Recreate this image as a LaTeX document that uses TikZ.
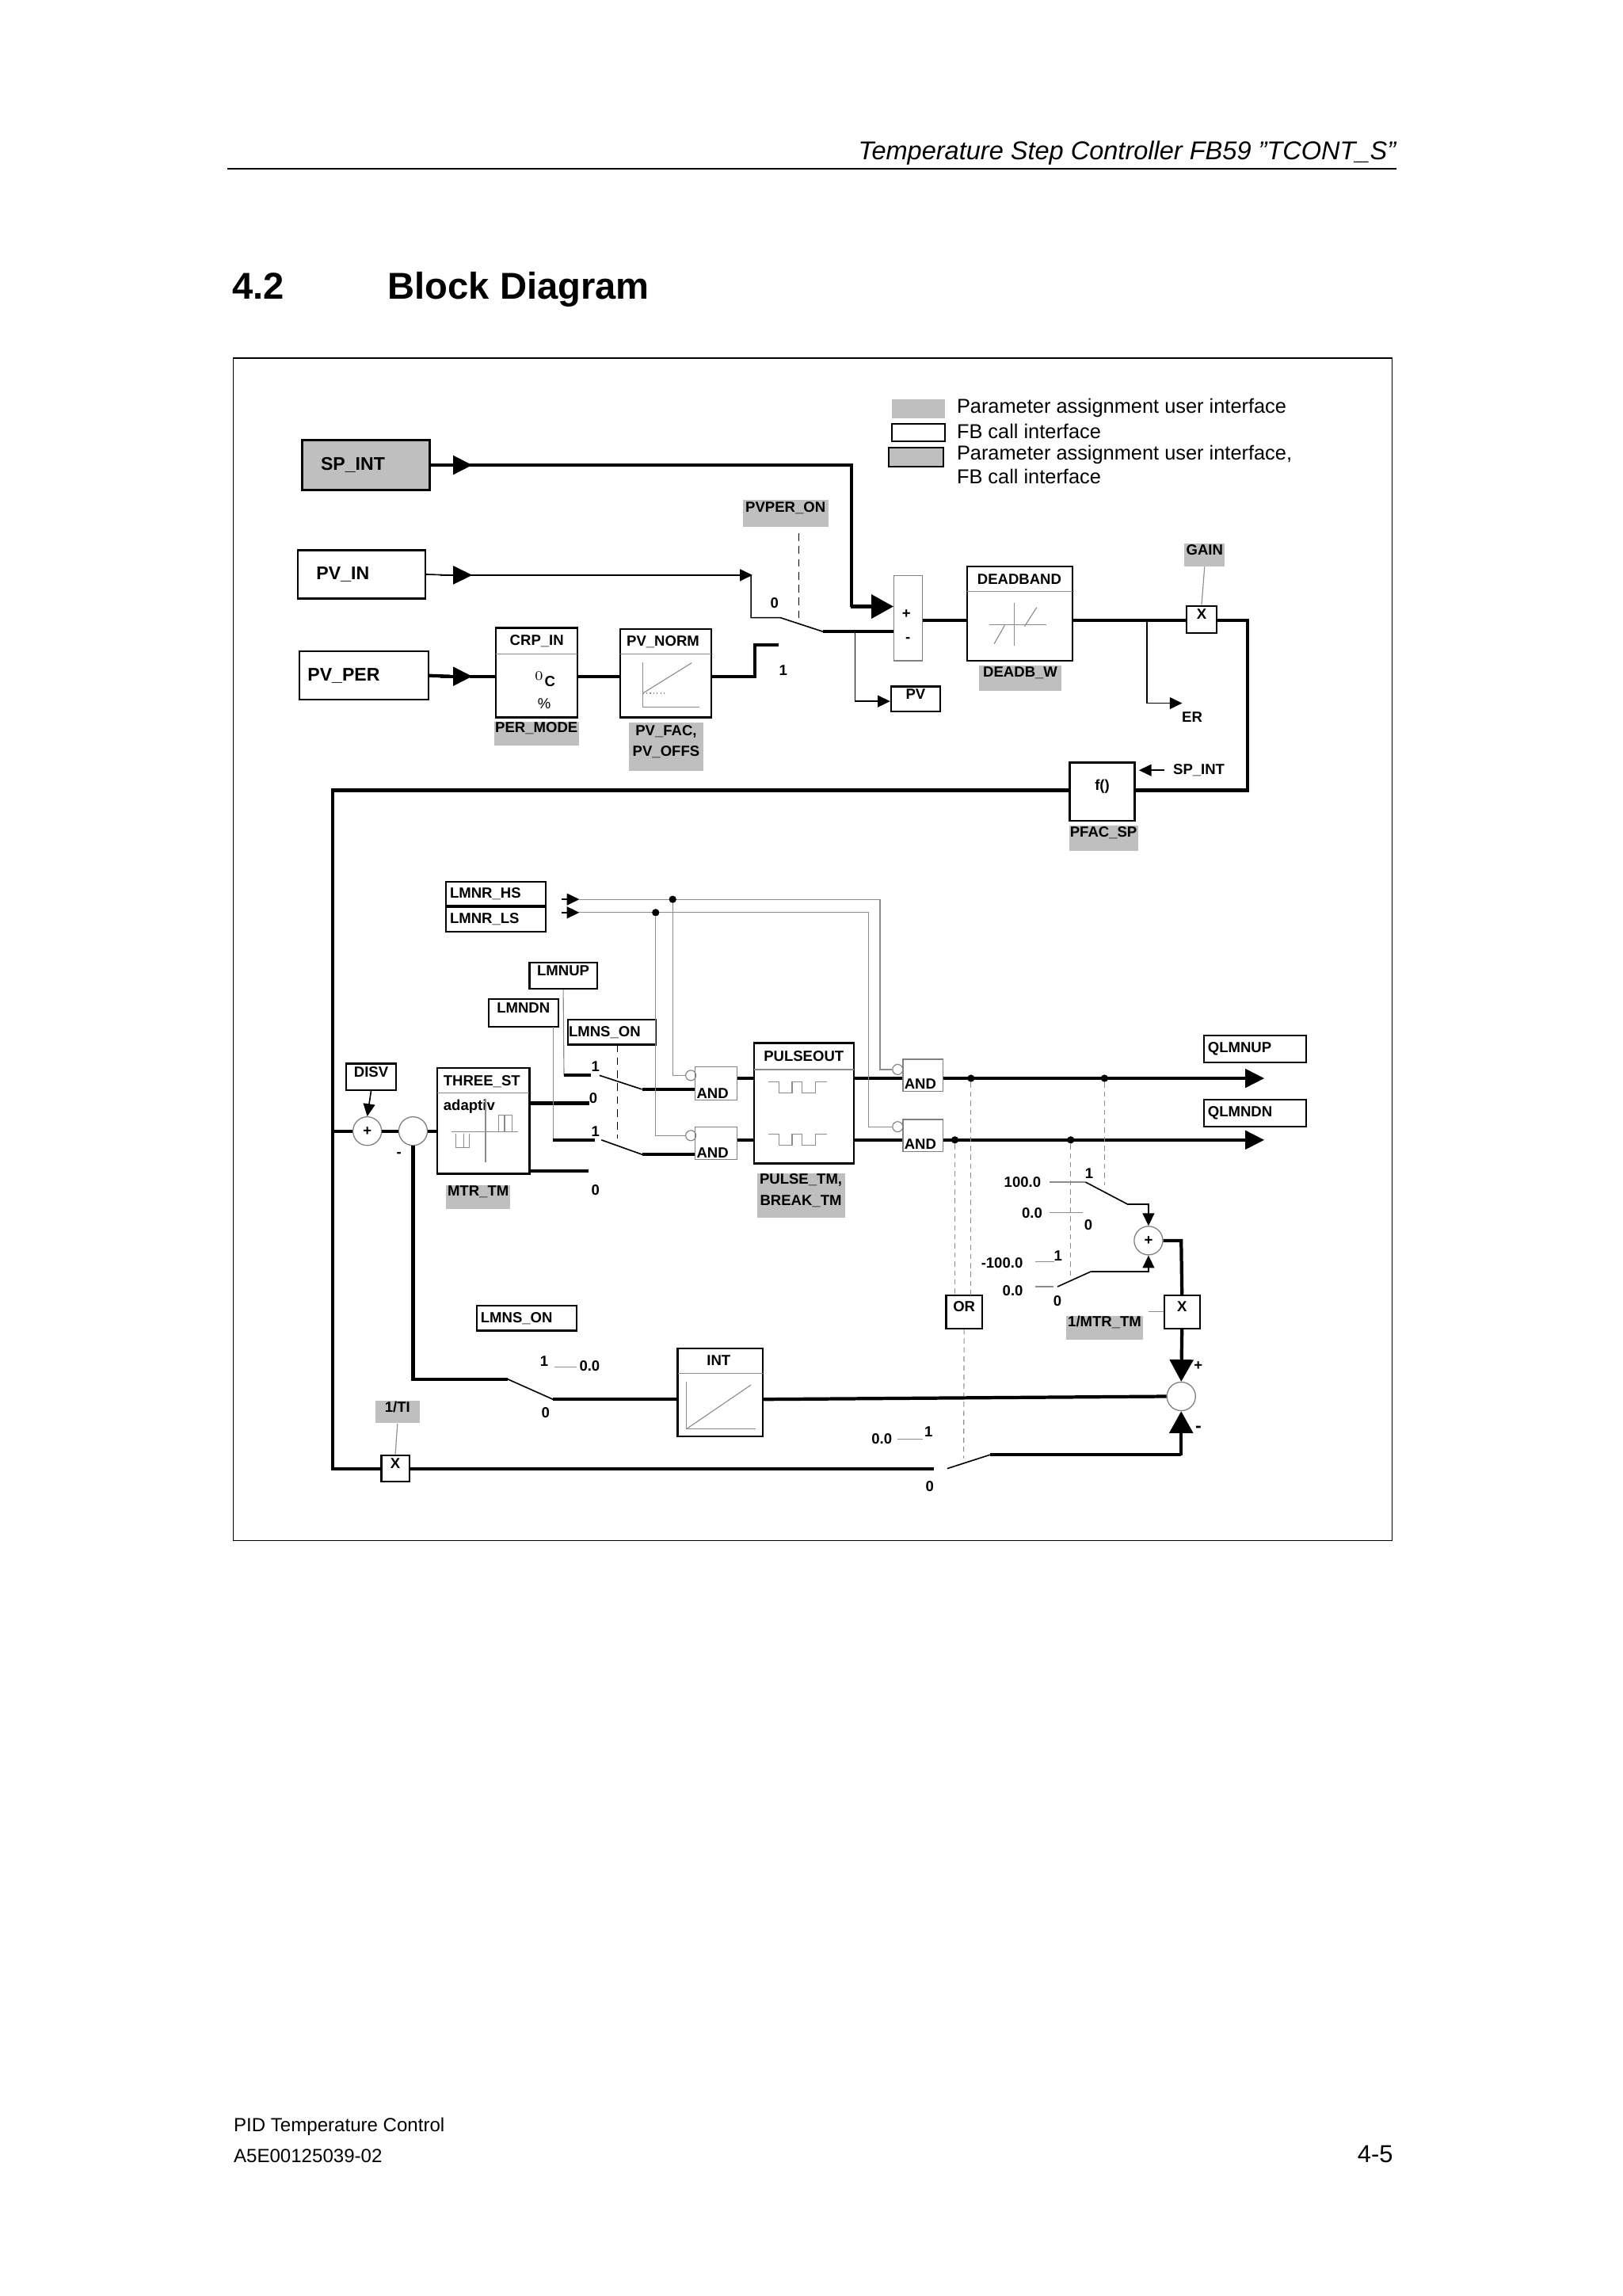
\documentclass[tikz,border=0pt]{standalone}
\usepackage{fontspec}
\setmainfont{Liberation Sans}
\usetikzlibrary{positioning,calc,fit,arrows.meta}

\newcommand\fsml{\fontsize{5.7}{7.2}\selectfont\bfseries}
\newcommand\fbig{\fontsize{7.1}{8}\selectfont\bfseries}
\newcommand\fleg{\fontsize{7.8}{9}\selectfont}
% box from two corners (pixel grid)
\newcommand\bx[7][box]{\node[#1,fit={(#3,#4)(#5,#6)}] (#2) {#7};}

\tikzset{
  sig/.style={line width=1.3pt},
  wire/.style={line width=0.5pt},
  gwire/.style={line width=0.35pt,black!45},
  gdash/.style={line width=0.35pt,black!45,dash pattern=on 2pt off 1.5pt},
  box/.style={draw,line width=0.7pt,inner sep=0pt,font=\fsml},
  gbox/.style={draw=black!50,line width=0.4pt,inner sep=0pt,font=\fsml},
  prm/.style={fill=black!25,inner sep=0pt,font=\fsml,align=left},
  pbox/.style={draw,fill=black!25,line width=0.7pt,inner sep=0pt,font=\fbig},
  lbl/.style={inner sep=0pt,font=\fsml},
  sumc/.style={circle,draw=black!50,line width=0.4pt,inner sep=0pt,minimum size=0.39cm,font=\fsml},
  big/.style={-{Triangle[length=0.3cm,width=0.32cm]}},
  mid/.style={-{Triangle[length=0.26cm,width=0.25cm]}},
  sml/.style={-{Triangle[length=0.17cm,width=0.16cm]}},
  dot/.style={circle,fill,inner sep=0pt,minimum size=0.1cm},
  neg/.style={circle,draw=black!50,line width=0.35pt,inner sep=0pt,minimum size=0.14cm}
}

\begin{document}
\begin{tikzpicture}[x=0.02cm,y=-0.02cm]
\useasboundingbox (0,0) rectangle (1106,1565);

% page head
\node[anchor=base east,inner sep=0pt,font=\fontsize{10}{12}\selectfont\itshape] (head) at (952,109) {Temperature Step Controller FB59 "TCONT\_S"};
\draw[line width=0.5pt] (155,115) -- (952,115);
\node[anchor=base west,inner sep=0pt,font=\fontsize{14.5}{16}\selectfont\bfseries] (secno) at (158,204) {4.2};
\node[anchor=base west,inner sep=0pt,font=\fontsize{14.5}{16}\selectfont\bfseries] (sectitle) at (264,204) {Block Diagram};
\draw[line width=0.5pt] (159,244) rectangle (949,1050);

% legend
\fill[black!25] (608,272) rectangle (644,285);
\draw[line width=0.6pt] (608,289) rectangle (644,301);
\draw[line width=0.6pt,fill=black!25] (606,305) rectangle (643,318);
\node[anchor=west,inner sep=0pt,font=\fleg] (leg1) at (652,278) {Parameter assignment user interface};
\node[anchor=west,inner sep=0pt,font=\fleg] (leg2) at (652,294) {FB call interface};
\node[anchor=west,inner sep=0pt,font=\fleg] (leg3) at (652,310) {Parameter assignment user interface,};
\node[anchor=west,inner sep=0pt,font=\fleg] (leg4) at (652,325) {FB call interface};

% process value path
\bx[pbox]{spint}{206}{300}{293}{334}{}
\node[lbl,font=\fbig,anchor=west] at ($(spint.west)+(13,0)$) {SP\_INT};
\bx[box]{pvin}{203}{375}{290}{408}{}
\node[lbl,font=\fbig,anchor=west] at ($(pvin.west)+(13,0)$) {PV\_IN};
\bx[box]{pvper}{204}{444}{292}{477}{}
\node[lbl,font=\fbig,anchor=west] at ($(pvper.west)+(6,0)$) {PV\_PER};

\bx[box]{crpin}{338}{428}{393.5}{489}{}
\draw[gwire] (338,445.6) -- (393.5,445.6);
\node[lbl] at (366,437) {CRP\_IN};
\node[lbl] at (371.5,463) {$^{0}$C};
\node[lbl,font=\fontsize{5.7}{7}\selectfont] at (371,479.6) {\%};
\bx[box]{pvnorm}{423}{428.7}{485}{489}{}
\draw[gwire] (423,446) -- (485,446);
\node[lbl] at (452,437.5) {PV\_NORM};
\draw[gwire] (438.3,451.4) -- (438.3,482) -- (477,482);
\draw[gwire] (438.3,472.5) -- (471.6,451.8);
\draw[gwire,densely dotted] (438.3,472.5) -- (454,472.5);
\bx[prm]{permode}{337}{492}{394.5}{508}{PER\_MODE}
\bx[prm]{pvfac}{428.8}{492.6}{479.5}{525.6}{PV\_FAC,\\[1pt]PV\_OFFS}

\draw[sig] (pvper.east) -- (307,461);
\draw[sig,mid] (300,461) -- (322,461);
\draw[sig] (320,461) -- (crpin.west |- 0,461);
\draw[sig] (crpin.east |- 0,461) -- (pvnorm.west |- 0,461);
\draw[sig] (pvnorm.east |- 0,461) -- (514.6,461) -- (514.6,439.6) -- (531,439.6);
\draw[wire] (pvin.east) -- (307,392);
\draw[wire,mid] (300,392) -- (322,392);
\draw[wire,sml] (320,392) -- (513,392);
\draw[wire] (512,392) -- (512,421) -- (532,421) -- (561,430.5);
\bx[prm]{pvperon}{506.5}{341}{564.6}{359}{PVPER\_ON}
\draw[dash pattern=on 3pt off 2pt,line width=0.5pt] (544.6,363.5) -- (544.6,424.8);
\node[lbl] at (528,411) {0};
\node[lbl] at (534,457) {1};

\bx[gbox]{sum}{609.5}{392.4}{629}{450.3}{}
\node[lbl] at (618,418.5) {+};
\node[lbl] at (619,436) {-};
\draw[sig] (561,430.5) -- (sum.west |- 0,430.5);
\draw[sig] (spint.east) -- (307,317);
\draw[sig,mid] (300,317) -- (322,317);
\draw[sig] (320,317) -- (580.5,317) -- (580.5,413.4);
\draw[sig,big] (580,413.4) -- (sum.west |- 0,413.4);
\bx[box]{pv}{607.5}{468}{641}{485}{PV}
\draw[wire,sml] (583,430.5) -- (583,478) -- (pv.west |- 0,478);

\bx[box]{deadband}{659.3}{386}{731}{450.4}{}
\draw[gwire] (659.3,403) -- (731,403);
\node[lbl] at (695,395) {DEADBAND};
\draw[gwire] (691.7,411) -- (691.7,440);
\draw[gwire] (674.5,426) -- (713.6,426);
\draw[gwire] (677.8,438.8) -- (685,426.2);
\draw[gwire] (698.5,427) -- (706.8,414);
\bx[prm]{deadbw}{667.6}{453.6}{723.6}{471}{DEADB\_W}
\draw[sig] (sum.east |- 0,423) -- (deadband.west |- 0,423);
\bx[box]{gainx}{809}{413}{829.4}{431.5}{X}
\bx[prm]{gain}{807.5}{370.4}{835}{386}{GAIN}
\draw[gwire] (gain.south) -- (gainx.north);
\draw[sig] (deadband.east |- 0,423) -- (gainx.west |- 0,423);
\draw[wire,sml] (782,423) -- (782,479.3) -- (806,479.3);
\node[lbl] at (812.8,488.7) {ER};

\bx[box]{fpfac}{729.3}{519.8}{773.6}{559.4}{f()}
\bx[prm]{pfacsp}{728.8}{562.5}{775.8}{580}{PFAC\_SP}
\draw[wire,sml] (793.7,525) -- (776.5,525);
\node[lbl,anchor=west] at (799.5,525) {SP\_INT};
\draw[sig] (gainx.east |- 0,423) -- (850.6,423) -- (850.6,538.7) -- (fpfac.east |- 0,538.7);

% controller path
\bx[box]{disv}{236}{725}{270}{743}{DISV}
\node[sumc] (sdis) at (250.4,771) {+};
\node[sumc] (sctl) at (281.6,771) {};
\draw[wire,sml] (disv.south) -- (sdis.north);
\node[lbl] at (272,787) {-};
\bx[box]{xti}{260}{992}{279}{1010}{X}
\bx[prm]{ti}{256}{955}{286}{970}{1/TI}
\draw[gwire] (ti.south) -- (xti.north);
\draw[sig] (fpfac.west |- 0,538.7) -- (227,538.7) -- (227,1001) -- (xti.west |- 0,1001);
\draw[sig] (227,771) -- (sdis.west);
\draw[sig] (sdis.east) -- (sctl.west);

\bx[box]{threest}{298}{728}{361}{800}{}
\draw[gwire] (298,745) -- (361,745);
\node[lbl,anchor=west] at (302,737) {THREE\_ST};
\node[lbl,anchor=west] at (302,754.5) {adaptiv};
\draw[gwire] (308,771.6) -- (353,771.6);
\draw[gwire] (331,749) -- (331,792);
\draw[gwire] (340,771.6) -- (340,760) -- (349,760) -- (349,771.6);
\draw[gwire] (344,771.6) -- (344,760);
\draw[gwire] (311,773) -- (311,782) -- (320,782) -- (320,773);
\draw[gwire] (316,773) -- (316,782);
\bx[prm]{mtrtm}{304}{808}{348}{824}{MTR\_TM}
\draw[sig] (sctl.east) -- (threest.west |- 0,771);

\bx[box]{lmnrhs}{304}{601}{372}{617.5}{}
\node[lbl,anchor=west] at ($(lmnrhs.west)+(3,0)$) {LMNR\_HS};
\bx[box]{lmnrls}{304}{618.5}{372}{635}{}
\node[lbl,anchor=west] at ($(lmnrls.west)+(3,0)$) {LMNR\_LS};
\draw[wire,sml] (383,613) -- (395,613);
\draw[wire,sml] (383,622) -- (395,622);
\bx[box]{lmnup}{361}{656}{407}{674}{LMNUP}
\bx[box]{lmndn}{333}{681}{380.7}{700}{LMNDN}
\bx[box]{lmnson}{387}{695}{447}{712}{}
\node[lbl,anchor=west] at ($(lmnson.west)+(1,0)$) {LMNS\_ON};

\bx[gbox]{andla}{474}{727}{502.5}{750}{}
\bx[gbox]{andlb}{474}{768}{502.5}{790.5}{}
\node[lbl,anchor=south west] at ($(andla.south west)+(1,-1.5)$) {AND};
\node[lbl,anchor=south west] at ($(andlb.south west)+(1,-1.5)$) {AND};
\node[neg] (nla) at (471,733) {};
\node[neg] (nlb) at (471,774) {};

\draw[gwire] (lmnup.south) -- (384.5,733);
\draw[sig] (384.5,733) -- (403,733);
\draw[wire] (408.7,733) -- (437.7,742.5);
\draw[sig] (437.7,742.5) -- (andla.west |- 0,742.5);
\draw[sig] (threest.east |- 0,752) -- (401.8,752);
\draw[gwire] (377,700) -- (377,777);
\draw[sig] (377,777) -- (405.7,777);
\draw[wire] (410,777) -- (438,787);
\draw[sig] (438,787) -- (andlb.west |- 0,787);
\draw[sig] (threest.east |- 0,798) -- (401,798);
\draw[dash pattern=on 3pt off 2pt,line width=0.5pt] (421,712) -- (421,776);
\node[lbl] at (406,727) {1};
\node[lbl] at (404.5,748.5) {0};
\node[lbl] at (406,771) {1};
\node[lbl] at (406,811) {0};

\bx[box]{pulseout}{514}{711}{582}{793}{}
\draw[gwire] (514,729) -- (582,729);
\node[lbl] at (548,720) {PULSEOUT};
\foreach \yy in {737.6,773} {
  \draw[gwire] (524,\yy) -- (531,\yy) -- (531,\yy+7.4) -- (540,\yy+7.4) -- (540,\yy) -- (547,\yy) -- (547,\yy+7.4) -- (556,\yy+7.4) -- (556,\yy) -- (564,\yy);
}
\bx[prm]{pulsetm}{516}{800}{576}{830}{PULSE\_TM,\\[1pt]BREAK\_TM}
\draw[sig] (andla.east |- 0,735) -- (pulseout.west |- 0,735);
\draw[sig] (andlb.east |- 0,777) -- (pulseout.west |- 0,777);

\bx[gbox]{andra}{615.6}{722}{643}{744}{}
\bx[gbox]{andrb}{615.6}{763}{643}{785}{}
\node[lbl,anchor=south west] at ($(andra.south west)+(1,-1.5)$) {AND};
\node[lbl,anchor=south west] at ($(andrb.south west)+(1,-1.5)$) {AND};
\node[neg] (nra) at (612,729) {};
\node[neg] (nrb) at (612,768) {};
\draw[sig] (pulseout.east |- 0,735) -- (andra.west |- 0,735);
\draw[sig] (pulseout.east |- 0,777) -- (andrb.west |- 0,777);

% limit signals
\draw[gwire] (395,613) -- (600,613) -- (600,729) -- (nra.west);
\draw[gwire] (395,622) -- (592,622) -- (592,768) -- (nrb.west);
\node[dot] (dhs) at (458.6,613) {};
\node[dot] (dls) at (447,622) {};
\draw[gwire] (dhs) -- (458.6,733) -- (nla.west);
\draw[gwire] (dls) -- (447,774) -- (nlb.west);

\bx[box]{qup}{820.7}{705.7}{890.5}{724}{}
\node[lbl,anchor=west] at ($(qup.west)+(3,0)$) {QLMNUP};
\bx[box]{qdn}{820.7}{749.6}{890.5}{768}{}
\node[lbl,anchor=west] at ($(qdn.west)+(3,0)$) {QLMNDN};
\draw[sig,mid] (andra.east |- 0,735) -- (862,735);
\draw[sig,mid] (andrb.east |- 0,777) -- (862,777);
\node[dot] (dua) at (662,735) {};
\node[dot] (dub) at (753,735) {};
\node[dot] (dda) at (651,777) {};
\node[dot] (ddb) at (730,777) {};

\bx[box]{orgate}{645}{883}{669.6}{905.5}{OR}
\draw[gdash] (dua) -- (662,883);
\draw[gdash] (dda) -- (651,883);
\draw[gdash] (orgate.south) -- (657,994);
\draw[gdash] (dub) -- (753,808);
\draw[gdash] (ddb) -- (730,872);

% motor model
\node[sumc] (splus) at (783,845.6) {+};
\node[anchor=east,lbl] at (710,805.7) {100.0};
\draw[gwire] (715.5,805.7) -- (740,805.7);
\node[lbl] at (742.6,799.7) {1};
\draw[wire] (740,805.7) -- (768.5,820.7);
\draw[wire,sml] (768.5,820.7) -- (783,820.7) -- (splus.north);
\node[anchor=east,lbl] at (711,826.6) {0.0};
\draw[gwire] (715.5,826.6) -- (738,826.6);
\node[lbl] at (742,834.8) {0};
\node[anchor=east,lbl] at (697.7,861) {-100.0};
\draw[gwire] (706,860) -- (718.6,860);
\node[lbl] at (721.4,856) {1};
\node[anchor=east,lbl] at (697.8,880) {0.0};
\draw[gwire] (706,877) -- (718,877);
\node[lbl] at (721,886.6) {0};
\draw[wire] (721,877) -- (744,866.6);
\draw[wire,sml] (744,866.6) -- (783,866.6) -- (splus.south);

\bx[box]{xmtr}{793.7}{883}{818}{905.5}{X}
\bx[prm]{mtr}{726.8}{897}{779.4}{913}{1/MTR\_TM}
\draw[gwire] (783,894) -- (xmtr.west |- 0,894);
\draw[sig] (splus.east) -- (805.3,845.6) -- (xmtr.north);
\node[sumc] (sout) at (805.3,951.8) {};
\draw[sig,big] (xmtr.south) -- (sout.north);
\node[lbl] at (817,931) {+};
\node[lbl,font=\fbig] at (817,974) {-};

\bx[box]{lmnson2}{325}{890}{393}{907}{}
\node[lbl,anchor=west] at ($(lmnson2.west)+(3,0)$) {LMNS\_ON};
\node[lbl] at (371,928) {1};
\draw[gwire] (378,932) -- (393,932);
\node[lbl] at (402,931) {0.0};
\node[lbl] at (372,963) {0};
\bx[box]{int}{462}{919}{520}{979}{}
\draw[gwire] (462,936) -- (520,936);
\node[lbl] at (490,927.5) {INT};
\draw[gwire] (468,942) -- (468,974) -- (515,974);
\draw[gwire] (468,974) -- (512,944);
\draw[sig] (sctl.south) -- (281.6,940) -- (346,940);
\draw[wire] (346,940) -- (377,953.8);
\draw[sig] (377,953.8) -- (int.west |- 0,953.8);
\draw[sig] (int.east |- 0,953.8) -- (sout.west);

\draw[sig] (xti.east |- 0,1001) -- (636.6,1001);
\draw[wire] (645.8,1001) -- (675,991.6);
\draw[sig] (675,991.6) -- (805.3,991.6);
\draw[sig,big] (805.3,992) -- (sout.south);
\node[anchor=east,lbl] at (608.5,981) {0.0};
\draw[gwire] (611.6,981) -- (629,981);
\node[lbl] at (633,976) {1};
\node[lbl] at (633.8,1013) {0};

% page foot
\node[anchor=base west,inner sep=0pt,font=\fontsize{7.4}{9}\selectfont] (foot1) at (159,1453) {PID Temperature Control};
\node[anchor=base west,inner sep=0pt,font=\fontsize{7.4}{9}\selectfont] (foot2) at (159,1474) {A5E00125039-02};
\node[anchor=base east,inner sep=0pt,font=\fontsize{9.5}{11}\selectfont] (pageno) at (950,1474) {4-5};
\end{tikzpicture}
\end{document}
